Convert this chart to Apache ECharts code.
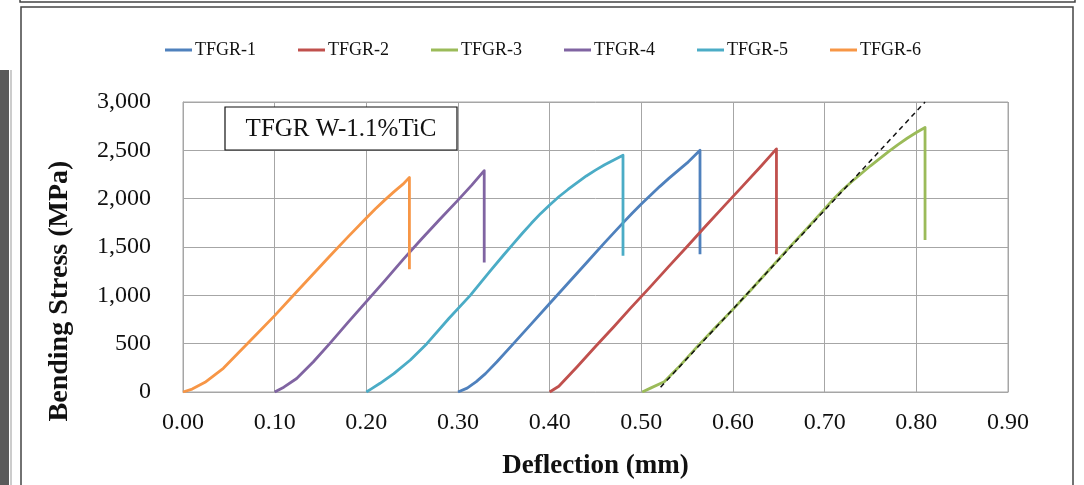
<!DOCTYPE html>
<html>
<head>
<meta charset="utf-8">
<script src="https://cdn.jsdelivr.net/npm/echarts@6/dist/echarts.min.js"></script>
<style>
  html, body { margin: 0; padding: 0; background: #fff; }
  #chart { width: 1084px; height: 485px; }
</style>
</head>
<body>
<div id="chart"></div>
<script>
// x ticks and y ticks
const xTicks = [0, 0.1, 0.2, 0.3, 0.4, 0.5, 0.6, 0.7, 0.8, 0.9];
const yTicks = [0, 500, 1000, 1500, 2000, 2500, 3000];

const seriesNames = ["TFGR-1", "TFGR-2", "TFGR-3", "TFGR-4", "TFGR-5", "TFGR-6"];
const seriesColors = ["#4f81bd", "#c0504d", "#9bbb59", "#8064a2", "#4bacc6", "#f79646"];

// [deflection mm, stress MPa]
const tfgr1 = [[0.30, 0], [0.31, 40], [0.32, 107], [0.33, 190], [0.3425, 313], [0.36, 495], [0.38, 705],
  [0.40, 915], [0.42, 1125], [0.44, 1335], [0.46, 1545], [0.48, 1750], [0.49, 1850], [0.50, 1945],
  [0.51, 2035], [0.52, 2125], [0.53, 2210], [0.54, 2290], [0.55, 2370], [0.564, 2500], [0.564, 1424]];
const tfgr2 = [[0.40, 0], [0.41, 60], [0.43, 262], [0.45, 470], [0.47, 675], [0.488, 865], [0.51, 1090],
  [0.53, 1300], [0.55, 1505], [0.57, 1715], [0.59, 1920], [0.61, 2125], [0.63, 2330], [0.6474, 2515],
  [0.6474, 1424]];
const tfgr3 = [[0.501, 0], [0.51, 40], [0.525, 107], [0.54, 250], [0.561, 469], [0.58, 660], [0.601, 865],
  [0.62, 1060], [0.64, 1270], [0.66, 1480], [0.68, 1685], [0.70, 1895], [0.71, 2000], [0.72, 2095],
  [0.73, 2180], [0.74, 2260], [0.75, 2340], [0.76, 2415], [0.77, 2490], [0.78, 2560], [0.79, 2625],
  [0.80, 2685], [0.8095, 2737], [0.8095, 1572]];
const tfgr4 = [[0.10, 0], [0.11, 50], [0.124, 140], [0.142, 310], [0.16, 500], [0.18, 720], [0.20, 935],
  [0.22, 1150], [0.24, 1370], [0.26, 1580], [0.28, 1785], [0.30, 1985], [0.315, 2140], [0.3286, 2290],
  [0.3286, 1340]];
const tfgr5 = [[0.20, 0], [0.205, 30], [0.215, 90], [0.23, 190], [0.248, 331], [0.266, 500], [0.29, 760],
  [0.3134, 1000], [0.335, 1250], [0.35, 1420], [0.36, 1530], [0.37, 1640], [0.38, 1745], [0.39, 1845],
  [0.40, 1935], [0.41, 2020], [0.42, 2095], [0.43, 2165], [0.44, 2235], [0.45, 2295], [0.46, 2350],
  [0.47, 2400], [0.48, 2450], [0.48, 1410]];
const tfgr6 = [[0, 0], [0.01, 30], [0.024, 100], [0.044, 245], [0.06, 400], [0.08, 595], [0.10, 790],
  [0.12, 995], [0.14, 1200], [0.16, 1405], [0.18, 1605], [0.20, 1800], [0.21, 1895], [0.22, 1985],
  [0.23, 2070], [0.24, 2150], [0.247, 2220], [0.247, 1270]];
// dashed linear fit on TFGR-3
const fitLine = [[0.521, 50], [0.8095, 3000]];

const allData = [tfgr1, tfgr2, tfgr3, tfgr4, tfgr5, tfgr6];

const serif = "'Liberation Serif', 'Times New Roman', serif";

let chart = echarts.init(document.getElementById("chart"));

let series = seriesNames.map((name, i) => {
    return {
        name: name,
        type: "line",
        data: allData[i],
        showSymbol: false,
        symbol: "none",
        lineStyle: { width: 2.8, color: seriesColors[i], join: "round" },
        itemStyle: { color: seriesColors[i] },
        animation: false
    };
});
series.push({
    name: "fit",
    type: "line",
    data: fitLine,
    showSymbol: false,
    symbol: "none",
    lineStyle: { width: 1.5, color: "#111", type: [5, 4] },
    z: 5,
    animation: false
});

let option = {
    animation: false,
    legend: {
        data: seriesNames.map((n, i) => ({ name: n, icon: "rect", itemStyle: { color: seriesColors[i] } })),
        left: 160,
        top: 36,
        itemWidth: 27,
        itemHeight: 3,
        itemGap: 42,
        textStyle: { fontFamily: serif, fontSize: 18, color: "#111", padding: [0, 0, 0, -2] }
    },
    grid: {
        left: 183,
        right: 76,
        top: 102,
        bottom: 93,
        show: true,
        borderColor: "#a6a6a6",
        borderWidth: 1
    },
    xAxis: {
        type: "value",
        min: xTicks[0],
        max: xTicks[xTicks.length - 1],
        interval: 0.1,
        name: "Deflection (mm)",
        nameLocation: "middle",
        nameGap: 61,
        nameTextStyle: { fontFamily: serif, fontSize: 27, fontWeight: "bold", color: "#111" },
        axisLine: { lineStyle: { color: "#a6a6a6" } },
        axisTick: { show: false },
        splitLine: { lineStyle: { color: "#a6a6a6" } },
        axisLabel: {
            margin: 19,
            fontFamily: serif,
            fontSize: 24,
            color: "#111",
            formatter: (v) => v.toFixed(2)
        }
    },
    yAxis: {
        type: "value",
        min: yTicks[0],
        max: yTicks[yTicks.length - 1],
        interval: 500,
        name: "Bending Stress (MPa)",
        nameLocation: "middle",
        nameGap: 109,
        nameTextStyle: { fontFamily: serif, fontSize: 28, fontWeight: "bold", color: "#111", padding: [0, 88, 0, 0] },
        axisLine: { show: true, lineStyle: { color: "#a6a6a6" } },
        axisTick: { show: false },
        splitLine: { lineStyle: { color: "#a6a6a6" } },
        axisLabel: {
            margin: 32,
            fontFamily: serif,
            fontSize: 24,
            color: "#111",
            formatter: (v) => v.toLocaleString("en-US")
        }
    },
    graphic: [
        { type: "rect", shape: { x: 20, y: -10, width: 1055, height: 12 }, style: { fill: "none", stroke: "#444", lineWidth: 1.5 } },
        { type: "rect", shape: { x: 21, y: 7, width: 1052, height: 490 }, style: { fill: "none", stroke: "#444", lineWidth: 1.5 } },
        { type: "rect", shape: { x: 0, y: 70, width: 9, height: 420 }, style: { fill: "#5a5a5a" } },
        { type: "line", shape: { x1: 11, y1: 70, x2: 11, y2: 485 }, style: { stroke: "#999", lineWidth: 1 } },
        { type: "rect", shape: { x: 225, y: 107, width: 232, height: 43 }, style: { fill: "#fff", stroke: "#111", lineWidth: 1.2 }, z: 10 },
        {
            type: "text", x: 341, y: 129, z: 11,
            style: { text: "TFGR W-1.1%TiC", fontFamily: serif, fontSize: 25, fill: "#111", align: "center", verticalAlign: "middle" }
        }
    ],
    series: series
};

chart.setOption(option);
</script>
</body>
</html>
